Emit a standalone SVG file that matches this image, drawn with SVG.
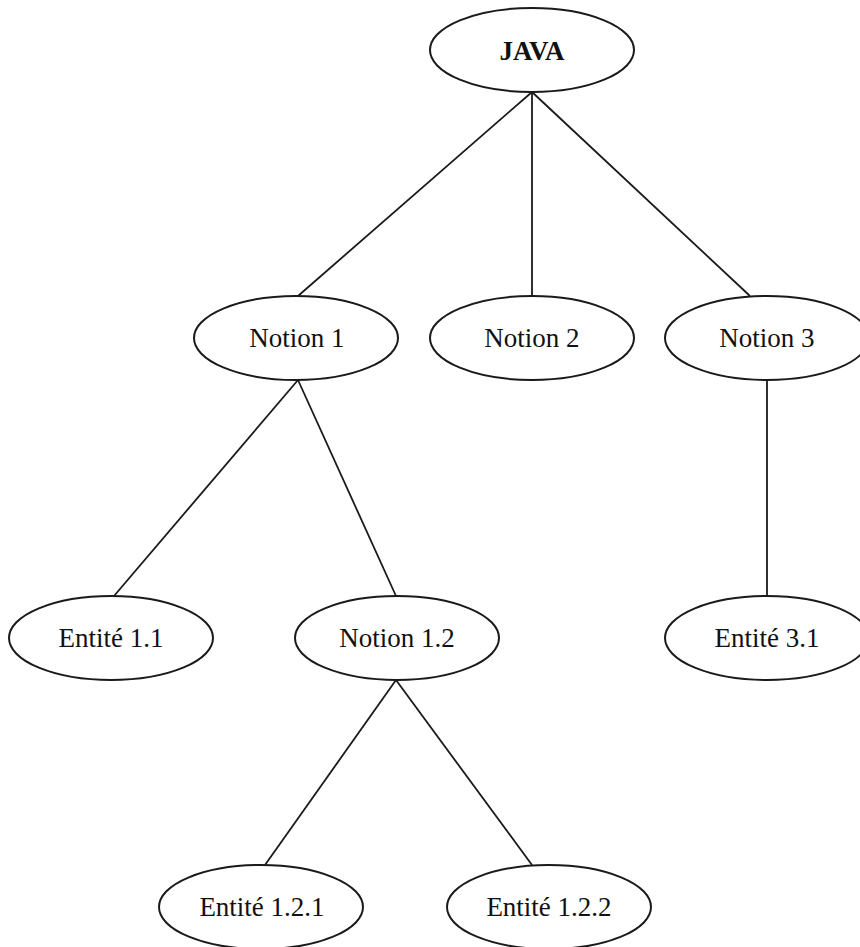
<svg xmlns="http://www.w3.org/2000/svg" width="860" height="947" viewBox="0 0 860 947">
<style>
.n ellipse{fill:#fff;stroke:#1a1a1a;stroke-width:2}
.n text{font-family:"Liberation Serif","Times New Roman",serif;font-size:27px;fill:#111;text-anchor:middle}
.b{font-weight:bold}
#edges line{stroke:#1a1a1a;stroke-width:1.8}
</style>
<rect width="860" height="947" fill="#fff"/>
<g id="edges">
<line x1="532" y1="92" x2="298" y2="296"/>
<line x1="532" y1="92" x2="532" y2="296"/>
<line x1="532" y1="92" x2="750" y2="296"/>
<line x1="298" y1="380" x2="114" y2="596"/>
<line x1="298" y1="380" x2="396" y2="596"/>
<line x1="767" y1="380" x2="767" y2="596"/>
<line x1="396" y1="680" x2="265" y2="865"/>
<line x1="396" y1="680" x2="532" y2="865"/>
</g>
<g id="java" class="n"><ellipse cx="532" cy="50" rx="102" ry="42"/><text x="532" y="60" class="b">JAVA</text></g>
<g id="notion1" class="n"><ellipse cx="296" cy="338" rx="102" ry="42"/><text x="297" y="347">Notion 1</text></g>
<g id="notion2" class="n"><ellipse cx="532" cy="338" rx="102" ry="42"/><text x="532" y="347">Notion 2</text></g>
<g id="notion3" class="n"><ellipse cx="767" cy="338" rx="102" ry="42"/><text x="767" y="347">Notion 3</text></g>
<g id="entite11" class="n"><ellipse cx="111" cy="638" rx="102" ry="42"/><text x="111" y="647">Entité 1.1</text></g>
<g id="notion12" class="n"><ellipse cx="397" cy="638" rx="102" ry="42"/><text x="397" y="647">Notion 1.2</text></g>
<g id="entite31" class="n"><ellipse cx="767" cy="638" rx="102" ry="42"/><text x="767" y="647">Entité 3.1</text></g>
<g id="entite121" class="n"><ellipse cx="261" cy="907" rx="102" ry="42"/><text x="262" y="916">Entité 1.2.1</text></g>
<g id="entite122" class="n"><ellipse cx="549" cy="907" rx="102" ry="42"/><text x="549" y="916">Entité 1.2.2</text></g>
</svg>
